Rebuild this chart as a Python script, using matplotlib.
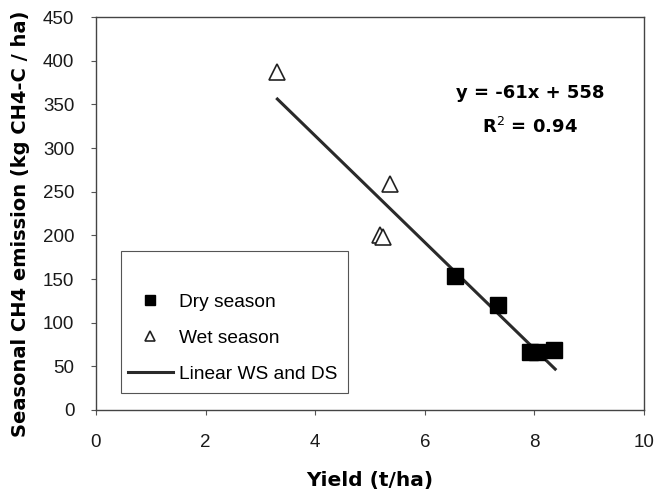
import matplotlib
matplotlib.use("Agg")
import matplotlib.pyplot as plt
from matplotlib.patches import Rectangle
import numpy as np

plt.rcParams['font.family'] = ['Liberation Sans', 'DejaVu Sans']

# data
dry_x = [6.55, 7.33, 7.92, 8.05, 8.36]
dry_y = [153, 120, 66, 66, 69]
wet_x = [3.31, 5.36, 5.18, 5.24]
wet_y = [387, 259, 200, 198]
fit_slope = -61
fit_icpt = 558
fit_range = [3.31, 8.38]

x_ticks = [0, 2, 4, 6, 8, 10]
y_ticks = list(range(0, 451, 50))

bold_font = dict(family='DejaVu Sans', fontweight='bold')

fig = plt.figure(figsize=(6.61, 4.96), dpi=100)
ax = fig.add_axes([0.1452, 0.1734, 0.829, 0.7923])

fx = np.array(fit_range)
ax.plot(fx, fit_slope * fx + fit_icpt, color='#2a2a2a', lw=2.2,
        label='Linear WS and DS', zorder=2)
ax.plot(dry_x, dry_y, 's', color='black', ms=12, ls='none',
        label='Dry season', zorder=3)
ax.plot(wet_x, wet_y, '^', mfc='white', mec='#222222', mew=1.2, ms=12,
        ls='none', label='Wet season', zorder=3)

ax.text(7.92, 363, 'y = -61x + 558', ha='center', va='center',
        fontsize=13, **bold_font)
ax.text(7.92, 324, 'R$^{2}$ = 0.94', ha='center', va='center',
        fontsize=13, **bold_font)

ax.set_xlim(0, 10)
ax.set_ylim(0, 450)
ax.set_xticks(x_ticks)
ax.set_yticks(y_ticks)
ax.tick_params(direction='out', length=3.6, labelsize=13.5, color='#555555',
               labelcolor='#1a1a1a')
ax.tick_params(axis='x', pad=14)
ax.tick_params(axis='y', pad=12)
for sp in ax.spines.values():
    sp.set_color('#444444')
    sp.set_linewidth(1.0)

ax.set_xlabel('Yield (t/ha)', fontsize=14.5, labelpad=14, **bold_font)
ax.set_ylabel('Seasonal CH4 emission (kg CH4-C / ha)', fontsize=14,
              labelpad=9, y=0.473, **bold_font)

# legend frame drawn separately so the box can keep its empty top part
ax.add_patch(Rectangle((0.0456, 0.043), 0.414, 0.361, transform=ax.transAxes,
                       facecolor='white', edgecolor='#555555', lw=0.8,
                       zorder=4))
handles, labels = ax.get_legend_handles_labels()
order = [1, 2, 0]
leg = ax.legend([handles[i] for i in order], [labels[i] for i in order],
                loc='center left', bbox_to_anchor=(0.058, 0.183),
                fontsize=13.8, frameon=False, markerscale=0.6,
                handlelength=2.35, handletextpad=0.3, borderpad=0,
                labelspacing=0.96, borderaxespad=0)
leg.set_zorder(5)

fig.savefig('out.png', dpi=100)
